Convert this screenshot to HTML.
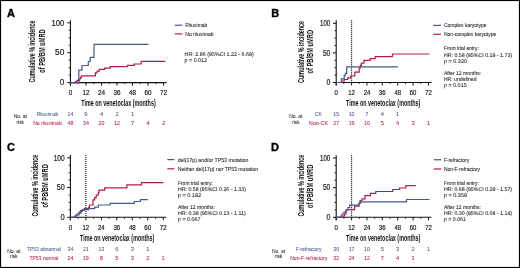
<!DOCTYPE html>
<html><head><meta charset="utf-8"><style>
html,body{margin:0;padding:0;background:#fff;}
body{width:520px;height:268px;overflow:hidden;}
svg{display:block;font-family:"Liberation Sans", sans-serif;will-change:transform;}
</style></head><body>
<svg width="520" height="268" viewBox="0 0 520 268">
<rect x="0.5" y="0.5" width="519" height="267" fill="#fff" stroke="#000" stroke-width="1.2"/>
<text x="7" y="16.6" font-size="11" fill="#000" text-anchor="start" font-weight="bold" stroke="#000" stroke-width="0.35">A</text>
<line x1="70.45" y1="20.2" x2="70.45" y2="85.6" stroke="#111" stroke-width="1.1"/>
<line x1="69.95" y1="82.6" x2="166.5" y2="82.6" stroke="#111" stroke-width="1.1"/>
<line x1="67.25" y1="82.6" x2="70.45" y2="82.6" stroke="#111" stroke-width="1"/>
<line x1="68.75" y1="75.125" x2="70.45" y2="75.125" stroke="#111" stroke-width="0.9"/>
<line x1="68.75" y1="67.64999999999999" x2="70.45" y2="67.64999999999999" stroke="#111" stroke-width="0.9"/>
<line x1="68.75" y1="60.175" x2="70.45" y2="60.175" stroke="#111" stroke-width="0.9"/>
<line x1="67.25" y1="52.699999999999996" x2="70.45" y2="52.699999999999996" stroke="#111" stroke-width="1"/>
<line x1="68.75" y1="45.224999999999994" x2="70.45" y2="45.224999999999994" stroke="#111" stroke-width="0.9"/>
<line x1="68.75" y1="37.75" x2="70.45" y2="37.75" stroke="#111" stroke-width="0.9"/>
<line x1="68.75" y1="30.275" x2="70.45" y2="30.275" stroke="#111" stroke-width="0.9"/>
<line x1="67.25" y1="22.799999999999997" x2="70.45" y2="22.799999999999997" stroke="#111" stroke-width="1"/>
<line x1="70.45" y1="82.6" x2="70.45" y2="85.6" stroke="#111" stroke-width="1"/>
<line x1="78.21000000000001" y1="82.6" x2="78.21000000000001" y2="84.1" stroke="#111" stroke-width="0.9"/>
<line x1="85.97" y1="82.6" x2="85.97" y2="85.6" stroke="#111" stroke-width="1"/>
<line x1="93.73" y1="82.6" x2="93.73" y2="84.1" stroke="#111" stroke-width="0.9"/>
<line x1="101.49000000000001" y1="82.6" x2="101.49000000000001" y2="85.6" stroke="#111" stroke-width="1"/>
<line x1="109.25" y1="82.6" x2="109.25" y2="84.1" stroke="#111" stroke-width="0.9"/>
<line x1="117.01" y1="82.6" x2="117.01" y2="85.6" stroke="#111" stroke-width="1"/>
<line x1="124.77000000000001" y1="82.6" x2="124.77000000000001" y2="84.1" stroke="#111" stroke-width="0.9"/>
<line x1="132.53" y1="82.6" x2="132.53" y2="85.6" stroke="#111" stroke-width="1"/>
<line x1="140.29000000000002" y1="82.6" x2="140.29000000000002" y2="84.1" stroke="#111" stroke-width="0.9"/>
<line x1="148.05" y1="82.6" x2="148.05" y2="85.6" stroke="#111" stroke-width="1"/>
<line x1="155.81" y1="82.6" x2="155.81" y2="84.1" stroke="#111" stroke-width="0.9"/>
<line x1="163.57" y1="82.6" x2="163.57" y2="85.6" stroke="#111" stroke-width="1"/>
<text x="64.4" y="85.35" font-size="8.7" fill="#222" text-anchor="end" textLength="4.6" lengthAdjust="spacingAndGlyphs" stroke="#222" stroke-width="0.2">0</text>
<text x="64.4" y="55.449999999999996" font-size="8.7" fill="#222" text-anchor="end" textLength="9.3" lengthAdjust="spacingAndGlyphs" stroke="#222" stroke-width="0.2">50</text>
<text x="64.4" y="25.549999999999997" font-size="8.7" fill="#222" text-anchor="end" textLength="12.8" lengthAdjust="spacingAndGlyphs" stroke="#222" stroke-width="0.2">100</text>
<text x="70.45" y="94.7" font-size="6.8" fill="#222" text-anchor="middle" textLength="3.4" lengthAdjust="spacingAndGlyphs" stroke="#222" stroke-width="0.2">0</text>
<text x="85.97" y="94.7" font-size="6.8" fill="#222" text-anchor="middle" textLength="7.0" lengthAdjust="spacingAndGlyphs" stroke="#222" stroke-width="0.2">12</text>
<text x="101.49000000000001" y="94.7" font-size="6.8" fill="#222" text-anchor="middle" textLength="7.0" lengthAdjust="spacingAndGlyphs" stroke="#222" stroke-width="0.2">24</text>
<text x="117.01" y="94.7" font-size="6.8" fill="#222" text-anchor="middle" textLength="7.0" lengthAdjust="spacingAndGlyphs" stroke="#222" stroke-width="0.2">36</text>
<text x="132.53" y="94.7" font-size="6.8" fill="#222" text-anchor="middle" textLength="7.0" lengthAdjust="spacingAndGlyphs" stroke="#222" stroke-width="0.2">48</text>
<text x="148.05" y="94.7" font-size="6.8" fill="#222" text-anchor="middle" textLength="7.0" lengthAdjust="spacingAndGlyphs" stroke="#222" stroke-width="0.2">60</text>
<text x="163.57" y="94.7" font-size="6.8" fill="#222" text-anchor="middle" textLength="7.0" lengthAdjust="spacingAndGlyphs" stroke="#222" stroke-width="0.2">72</text>
<text x="81.3" y="105.9" font-size="8.3" fill="#111" text-anchor="start" font-weight="bold" textLength="74.4" lengthAdjust="spacingAndGlyphs">Time on venetoclax (months)</text>
<text x="34.9" y="82.5" font-size="8.8" fill="#111" text-anchor="start" font-weight="bold" textLength="62" lengthAdjust="spacingAndGlyphs" transform="rotate(-90 34.9 82.5)">Cumulative % incidence</text>
<text x="45.2" y="72.7" font-size="8.8" fill="#111" text-anchor="start" font-weight="bold" textLength="43.4" lengthAdjust="spacingAndGlyphs" transform="rotate(-90 45.2 72.7)">of PB/BM uMRD</text>
<path d="M70.45,82.6H75.3V81.6H77V80.3H79.5V78.8H80.6V77.3H81.5V75.8H95.4V72.8H97.1V71.1H99.2V69.4H104.5V68.1H110.2V66.6H127.6V65.3H134.3V64H141.2V61.3H165.3V61.3" fill="none" stroke="#b31c47" stroke-width="1.2" stroke-linejoin="miter"/>
<path d="M70.45,82.6H78.8V70.1H82V65.5H88.3V61.5H90.2V57.3H94V44.3H148.5V44.3" fill="none" stroke="#43598d" stroke-width="1.2" stroke-linejoin="miter"/>
<line x1="174.8" y1="25.2" x2="182.4" y2="25.2" stroke="#43598d" stroke-width="1.2"/>
<line x1="174.8" y1="33.9" x2="182.4" y2="33.9" stroke="#b31c47" stroke-width="1.2"/>
<text x="185.3" y="27.099999999999998" font-size="5.8" fill="#222" text-anchor="start" textLength="22" lengthAdjust="spacingAndGlyphs" stroke="#222" stroke-width="0.08">Rituximab</text>
<text x="185.3" y="35.8" font-size="5.8" fill="#222" text-anchor="start" textLength="28.2" lengthAdjust="spacingAndGlyphs" stroke="#222" stroke-width="0.08">No rituximab</text>
<text x="184.6" y="56.199999999999996" font-size="5.4" fill="#222" text-anchor="start" textLength="69.2" lengthAdjust="spacingAndGlyphs" stroke="#222" stroke-width="0.08" text-rendering="geometricPrecision">HR: 2.86 (95%CI 1.22 - 6.69)</text>
<text x="184.6" y="61.9" font-size="5.4" fill="#222" text-anchor="start" textLength="22.4" lengthAdjust="spacingAndGlyphs" stroke="#222" stroke-width="0.08" text-rendering="geometricPrecision">p = 0.012</text>
<text x="20.3" y="117.8" font-size="6.0" fill="#222" text-anchor="middle" textLength="13.2" lengthAdjust="spacingAndGlyphs" stroke="#222" stroke-width="0.05">No. at</text>
<text x="20.3" y="123.5" font-size="6.0" fill="#222" text-anchor="middle" textLength="7.4" lengthAdjust="spacingAndGlyphs" stroke="#222" stroke-width="0.05">risk</text>
<text x="47.5" y="116.3" font-size="5.9" fill="#43598d" text-anchor="middle" textLength="21.6" lengthAdjust="spacingAndGlyphs" stroke="#43598d" stroke-width="0.05">Rituximab</text>
<text x="47.5" y="125.3" font-size="5.9" fill="#b31c47" text-anchor="middle" textLength="28.6" lengthAdjust="spacingAndGlyphs" stroke="#b31c47" stroke-width="0.05">No rituximab</text>
<text x="70.45" y="116.3" font-size="5.8" fill="#43598d" text-anchor="middle" textLength="5.9" lengthAdjust="spacingAndGlyphs" stroke="#43598d" stroke-width="0.05">14</text>
<text x="85.97" y="116.3" font-size="5.8" fill="#43598d" text-anchor="middle" textLength="3.2" lengthAdjust="spacingAndGlyphs" stroke="#43598d" stroke-width="0.05">9</text>
<text x="101.49000000000001" y="116.3" font-size="5.8" fill="#43598d" text-anchor="middle" textLength="3.2" lengthAdjust="spacingAndGlyphs" stroke="#43598d" stroke-width="0.05">4</text>
<text x="117.01" y="116.3" font-size="5.8" fill="#43598d" text-anchor="middle" textLength="3.2" lengthAdjust="spacingAndGlyphs" stroke="#43598d" stroke-width="0.05">2</text>
<text x="132.53" y="116.3" font-size="5.8" fill="#43598d" text-anchor="middle" textLength="3.2" lengthAdjust="spacingAndGlyphs" stroke="#43598d" stroke-width="0.05">1</text>
<text x="70.45" y="125.3" font-size="5.8" fill="#b31c47" text-anchor="middle" textLength="5.9" lengthAdjust="spacingAndGlyphs" stroke="#b31c47" stroke-width="0.05">48</text>
<text x="85.97" y="125.3" font-size="5.8" fill="#b31c47" text-anchor="middle" textLength="5.9" lengthAdjust="spacingAndGlyphs" stroke="#b31c47" stroke-width="0.05">34</text>
<text x="101.49000000000001" y="125.3" font-size="5.8" fill="#b31c47" text-anchor="middle" textLength="5.9" lengthAdjust="spacingAndGlyphs" stroke="#b31c47" stroke-width="0.05">20</text>
<text x="117.01" y="125.3" font-size="5.8" fill="#b31c47" text-anchor="middle" textLength="5.9" lengthAdjust="spacingAndGlyphs" stroke="#b31c47" stroke-width="0.05">12</text>
<text x="132.53" y="125.3" font-size="5.8" fill="#b31c47" text-anchor="middle" textLength="3.2" lengthAdjust="spacingAndGlyphs" stroke="#b31c47" stroke-width="0.05">7</text>
<text x="148.05" y="125.3" font-size="5.8" fill="#b31c47" text-anchor="middle" textLength="3.2" lengthAdjust="spacingAndGlyphs" stroke="#b31c47" stroke-width="0.05">4</text>
<text x="163.57" y="125.3" font-size="5.8" fill="#b31c47" text-anchor="middle" textLength="3.2" lengthAdjust="spacingAndGlyphs" stroke="#b31c47" stroke-width="0.05">2</text>
<text x="271.2" y="16.6" font-size="11" fill="#000" text-anchor="start" font-weight="bold" stroke="#000" stroke-width="0.35">B</text>
<line x1="336.2" y1="20.3" x2="336.2" y2="85.5" stroke="#111" stroke-width="1.1"/>
<line x1="335.7" y1="82.5" x2="431.5" y2="82.5" stroke="#111" stroke-width="1.1"/>
<line x1="333.0" y1="82.5" x2="336.2" y2="82.5" stroke="#111" stroke-width="1"/>
<line x1="334.5" y1="75.1" x2="336.2" y2="75.1" stroke="#111" stroke-width="0.9"/>
<line x1="334.5" y1="67.7" x2="336.2" y2="67.7" stroke="#111" stroke-width="0.9"/>
<line x1="334.5" y1="60.3" x2="336.2" y2="60.3" stroke="#111" stroke-width="0.9"/>
<line x1="333.0" y1="52.9" x2="336.2" y2="52.9" stroke="#111" stroke-width="1"/>
<line x1="334.5" y1="45.5" x2="336.2" y2="45.5" stroke="#111" stroke-width="0.9"/>
<line x1="334.5" y1="38.099999999999994" x2="336.2" y2="38.099999999999994" stroke="#111" stroke-width="0.9"/>
<line x1="334.5" y1="30.699999999999996" x2="336.2" y2="30.699999999999996" stroke="#111" stroke-width="0.9"/>
<line x1="333.0" y1="23.299999999999997" x2="336.2" y2="23.299999999999997" stroke="#111" stroke-width="1"/>
<line x1="336.2" y1="82.5" x2="336.2" y2="85.5" stroke="#111" stroke-width="1"/>
<line x1="343.89" y1="82.5" x2="343.89" y2="84.0" stroke="#111" stroke-width="0.9"/>
<line x1="351.58" y1="82.5" x2="351.58" y2="85.5" stroke="#111" stroke-width="1"/>
<line x1="359.27" y1="82.5" x2="359.27" y2="84.0" stroke="#111" stroke-width="0.9"/>
<line x1="366.96" y1="82.5" x2="366.96" y2="85.5" stroke="#111" stroke-width="1"/>
<line x1="374.65" y1="82.5" x2="374.65" y2="84.0" stroke="#111" stroke-width="0.9"/>
<line x1="382.34" y1="82.5" x2="382.34" y2="85.5" stroke="#111" stroke-width="1"/>
<line x1="390.03" y1="82.5" x2="390.03" y2="84.0" stroke="#111" stroke-width="0.9"/>
<line x1="397.71999999999997" y1="82.5" x2="397.71999999999997" y2="85.5" stroke="#111" stroke-width="1"/>
<line x1="405.40999999999997" y1="82.5" x2="405.40999999999997" y2="84.0" stroke="#111" stroke-width="0.9"/>
<line x1="413.1" y1="82.5" x2="413.1" y2="85.5" stroke="#111" stroke-width="1"/>
<line x1="420.78999999999996" y1="82.5" x2="420.78999999999996" y2="84.0" stroke="#111" stroke-width="0.9"/>
<line x1="428.48" y1="82.5" x2="428.48" y2="85.5" stroke="#111" stroke-width="1"/>
<text x="330.3" y="85.25" font-size="8.3" fill="#222" text-anchor="end" textLength="3.9" lengthAdjust="spacingAndGlyphs" stroke="#222" stroke-width="0.2">0</text>
<text x="330.3" y="55.65" font-size="8.3" fill="#222" text-anchor="end" textLength="7.4" lengthAdjust="spacingAndGlyphs" stroke="#222" stroke-width="0.2">50</text>
<text x="330.3" y="26.049999999999997" font-size="8.3" fill="#222" text-anchor="end" textLength="10.3" lengthAdjust="spacingAndGlyphs" stroke="#222" stroke-width="0.2">100</text>
<text x="336.2" y="94.7" font-size="6.8" fill="#222" text-anchor="middle" textLength="3.4" lengthAdjust="spacingAndGlyphs" stroke="#222" stroke-width="0.2">0</text>
<text x="351.58" y="94.7" font-size="6.8" fill="#222" text-anchor="middle" textLength="6.6" lengthAdjust="spacingAndGlyphs" stroke="#222" stroke-width="0.2">12</text>
<text x="366.96" y="94.7" font-size="6.8" fill="#222" text-anchor="middle" textLength="6.6" lengthAdjust="spacingAndGlyphs" stroke="#222" stroke-width="0.2">24</text>
<text x="382.34" y="94.7" font-size="6.8" fill="#222" text-anchor="middle" textLength="6.6" lengthAdjust="spacingAndGlyphs" stroke="#222" stroke-width="0.2">36</text>
<text x="397.71999999999997" y="94.7" font-size="6.8" fill="#222" text-anchor="middle" textLength="6.6" lengthAdjust="spacingAndGlyphs" stroke="#222" stroke-width="0.2">48</text>
<text x="413.1" y="94.7" font-size="6.8" fill="#222" text-anchor="middle" textLength="6.6" lengthAdjust="spacingAndGlyphs" stroke="#222" stroke-width="0.2">60</text>
<text x="428.48" y="94.7" font-size="6.8" fill="#222" text-anchor="middle" textLength="6.6" lengthAdjust="spacingAndGlyphs" stroke="#222" stroke-width="0.2">72</text>
<text x="346.0" y="106.1" font-size="8.3" fill="#111" text-anchor="start" font-weight="bold" textLength="74.4" lengthAdjust="spacingAndGlyphs">Time on venetoclax (months)</text>
<text x="303.7" y="82.9" font-size="8.8" fill="#111" text-anchor="start" font-weight="bold" textLength="62" lengthAdjust="spacingAndGlyphs" transform="rotate(-90 303.7 82.9)">Cumulative % incidence</text>
<text x="313.5" y="73.4" font-size="8.8" fill="#111" text-anchor="start" font-weight="bold" textLength="43.4" lengthAdjust="spacingAndGlyphs" transform="rotate(-90 313.5 73.4)">of PB/BM uMRD</text>
<line x1="351.58" y1="20.3" x2="351.58" y2="82.5" stroke="#000" stroke-width="1.1" stroke-dasharray="1 1"/>
<path d="M336.2,82.5H342V81H344.2V79.5H347.7V77.8H350.6V76H354.8V72.2H359.2V68H360.4V65.3H361.4V63.2H364V60.4H370.2V58.7H375.2V56.7H392.5V54H429.5V54" fill="none" stroke="#b31c47" stroke-width="1.2" stroke-linejoin="miter"/>
<path d="M336.2,82.5H341.3V78.8H344.2V75.5H345.3V73.4H346.7V66.9H397.9V66.9" fill="none" stroke="#43598d" stroke-width="1.2" stroke-linejoin="miter"/>
<line x1="433.2" y1="25.4" x2="440.9" y2="25.4" stroke="#43598d" stroke-width="1.2"/>
<line x1="433.2" y1="34.3" x2="440.9" y2="34.3" stroke="#b31c47" stroke-width="1.2"/>
<text x="444" y="27.299999999999997" font-size="5.8" fill="#222" text-anchor="start" textLength="42.5" lengthAdjust="spacingAndGlyphs" stroke="#222" stroke-width="0.08">Complex karyotype</text>
<text x="444" y="36.199999999999996" font-size="5.8" fill="#222" text-anchor="start" textLength="52.2" lengthAdjust="spacingAndGlyphs" stroke="#222" stroke-width="0.08">Non-complex karyotype</text>
<text x="443.9" y="49.9" font-size="5.4" fill="#222" text-anchor="start" textLength="35" lengthAdjust="spacingAndGlyphs" stroke="#222" stroke-width="0.08" text-rendering="geometricPrecision">From trial entry:</text>
<text x="443.9" y="56.699999999999996" font-size="5.4" fill="#222" text-anchor="start" textLength="68.2" lengthAdjust="spacingAndGlyphs" stroke="#222" stroke-width="0.08" text-rendering="geometricPrecision">HR: 0.58 (95%CI 0.19 - 1.73)</text>
<text x="443.9" y="62.9" font-size="5.4" fill="#222" text-anchor="start" textLength="23.2" lengthAdjust="spacingAndGlyphs" stroke="#222" stroke-width="0.08" text-rendering="geometricPrecision">p = 0.320</text>
<text x="443.9" y="74.5" font-size="5.4" fill="#222" text-anchor="start" textLength="37.3" lengthAdjust="spacingAndGlyphs" stroke="#222" stroke-width="0.08" text-rendering="geometricPrecision">After 12 months:</text>
<text x="443.9" y="81.1" font-size="5.4" fill="#222" text-anchor="start" textLength="32.6" lengthAdjust="spacingAndGlyphs" stroke="#222" stroke-width="0.08" text-rendering="geometricPrecision">HR: undefined</text>
<text x="443.9" y="87.3" font-size="5.4" fill="#222" text-anchor="start" textLength="22.8" lengthAdjust="spacingAndGlyphs" stroke="#222" stroke-width="0.08" text-rendering="geometricPrecision">p = 0.015</text>
<text x="295.9" y="117.8" font-size="6.0" fill="#222" text-anchor="middle" textLength="13.2" lengthAdjust="spacingAndGlyphs" stroke="#222" stroke-width="0.05">No. at</text>
<text x="295.9" y="123.5" font-size="6.0" fill="#222" text-anchor="middle" textLength="7.4" lengthAdjust="spacingAndGlyphs" stroke="#222" stroke-width="0.05">risk</text>
<text x="318.4" y="116.3" font-size="5.9" fill="#43598d" text-anchor="middle" textLength="7.4" lengthAdjust="spacingAndGlyphs" stroke="#43598d" stroke-width="0.05">CK</text>
<text x="318.4" y="125.3" font-size="5.9" fill="#b31c47" text-anchor="middle" textLength="19.2" lengthAdjust="spacingAndGlyphs" stroke="#b31c47" stroke-width="0.05">Non-CK</text>
<text x="336.2" y="116.3" font-size="5.8" fill="#43598d" text-anchor="middle" textLength="5.9" lengthAdjust="spacingAndGlyphs" stroke="#43598d" stroke-width="0.05">15</text>
<text x="351.58" y="116.3" font-size="5.8" fill="#43598d" text-anchor="middle" textLength="5.9" lengthAdjust="spacingAndGlyphs" stroke="#43598d" stroke-width="0.05">10</text>
<text x="366.96" y="116.3" font-size="5.8" fill="#43598d" text-anchor="middle" textLength="3.2" lengthAdjust="spacingAndGlyphs" stroke="#43598d" stroke-width="0.05">7</text>
<text x="382.34" y="116.3" font-size="5.8" fill="#43598d" text-anchor="middle" textLength="3.2" lengthAdjust="spacingAndGlyphs" stroke="#43598d" stroke-width="0.05">4</text>
<text x="397.71999999999997" y="116.3" font-size="5.8" fill="#43598d" text-anchor="middle" textLength="3.2" lengthAdjust="spacingAndGlyphs" stroke="#43598d" stroke-width="0.05">1</text>
<text x="336.2" y="125.3" font-size="5.8" fill="#b31c47" text-anchor="middle" textLength="5.9" lengthAdjust="spacingAndGlyphs" stroke="#b31c47" stroke-width="0.05">27</text>
<text x="351.58" y="125.3" font-size="5.8" fill="#b31c47" text-anchor="middle" textLength="5.9" lengthAdjust="spacingAndGlyphs" stroke="#b31c47" stroke-width="0.05">19</text>
<text x="366.96" y="125.3" font-size="5.8" fill="#b31c47" text-anchor="middle" textLength="5.9" lengthAdjust="spacingAndGlyphs" stroke="#b31c47" stroke-width="0.05">10</text>
<text x="382.34" y="125.3" font-size="5.8" fill="#b31c47" text-anchor="middle" textLength="3.2" lengthAdjust="spacingAndGlyphs" stroke="#b31c47" stroke-width="0.05">5</text>
<text x="397.71999999999997" y="125.3" font-size="5.8" fill="#b31c47" text-anchor="middle" textLength="3.2" lengthAdjust="spacingAndGlyphs" stroke="#b31c47" stroke-width="0.05">4</text>
<text x="413.1" y="125.3" font-size="5.8" fill="#b31c47" text-anchor="middle" textLength="3.2" lengthAdjust="spacingAndGlyphs" stroke="#b31c47" stroke-width="0.05">3</text>
<text x="428.48" y="125.3" font-size="5.8" fill="#b31c47" text-anchor="middle" textLength="3.2" lengthAdjust="spacingAndGlyphs" stroke="#b31c47" stroke-width="0.05">1</text>
<text x="7" y="150.9" font-size="11" fill="#000" text-anchor="start" font-weight="bold" stroke="#000" stroke-width="0.35">C</text>
<line x1="70.4" y1="155.0" x2="70.4" y2="220.3" stroke="#111" stroke-width="1.1"/>
<line x1="69.9" y1="217.3" x2="166.3" y2="217.3" stroke="#111" stroke-width="1.1"/>
<line x1="67.2" y1="217.3" x2="70.4" y2="217.3" stroke="#111" stroke-width="1"/>
<line x1="68.7" y1="209.8625" x2="70.4" y2="209.8625" stroke="#111" stroke-width="0.9"/>
<line x1="68.7" y1="202.425" x2="70.4" y2="202.425" stroke="#111" stroke-width="0.9"/>
<line x1="68.7" y1="194.9875" x2="70.4" y2="194.9875" stroke="#111" stroke-width="0.9"/>
<line x1="67.2" y1="187.55" x2="70.4" y2="187.55" stroke="#111" stroke-width="1"/>
<line x1="68.7" y1="180.1125" x2="70.4" y2="180.1125" stroke="#111" stroke-width="0.9"/>
<line x1="68.7" y1="172.675" x2="70.4" y2="172.675" stroke="#111" stroke-width="0.9"/>
<line x1="68.7" y1="165.2375" x2="70.4" y2="165.2375" stroke="#111" stroke-width="0.9"/>
<line x1="67.2" y1="157.8" x2="70.4" y2="157.8" stroke="#111" stroke-width="1"/>
<line x1="70.4" y1="217.3" x2="70.4" y2="220.3" stroke="#111" stroke-width="1"/>
<line x1="78.135" y1="217.3" x2="78.135" y2="218.8" stroke="#111" stroke-width="0.9"/>
<line x1="85.87" y1="217.3" x2="85.87" y2="220.3" stroke="#111" stroke-width="1"/>
<line x1="93.605" y1="217.3" x2="93.605" y2="218.8" stroke="#111" stroke-width="0.9"/>
<line x1="101.34" y1="217.3" x2="101.34" y2="220.3" stroke="#111" stroke-width="1"/>
<line x1="109.07500000000002" y1="217.3" x2="109.07500000000002" y2="218.8" stroke="#111" stroke-width="0.9"/>
<line x1="116.81" y1="217.3" x2="116.81" y2="220.3" stroke="#111" stroke-width="1"/>
<line x1="124.54500000000002" y1="217.3" x2="124.54500000000002" y2="218.8" stroke="#111" stroke-width="0.9"/>
<line x1="132.28" y1="217.3" x2="132.28" y2="220.3" stroke="#111" stroke-width="1"/>
<line x1="140.01500000000001" y1="217.3" x2="140.01500000000001" y2="218.8" stroke="#111" stroke-width="0.9"/>
<line x1="147.75" y1="217.3" x2="147.75" y2="220.3" stroke="#111" stroke-width="1"/>
<line x1="155.485" y1="217.3" x2="155.485" y2="218.8" stroke="#111" stroke-width="0.9"/>
<line x1="163.22000000000003" y1="217.3" x2="163.22000000000003" y2="220.3" stroke="#111" stroke-width="1"/>
<text x="64.7" y="220.20000000000002" font-size="8.5" fill="#222" text-anchor="end" textLength="4.2" lengthAdjust="spacingAndGlyphs" stroke="#222" stroke-width="0.2">0</text>
<text x="64.7" y="190.45000000000002" font-size="8.5" fill="#222" text-anchor="end" textLength="8.0" lengthAdjust="spacingAndGlyphs" stroke="#222" stroke-width="0.2">50</text>
<text x="64.7" y="160.70000000000002" font-size="8.5" fill="#222" text-anchor="end" textLength="11.0" lengthAdjust="spacingAndGlyphs" stroke="#222" stroke-width="0.2">100</text>
<text x="70.4" y="229.6" font-size="6.8" fill="#222" text-anchor="middle" textLength="3.4" lengthAdjust="spacingAndGlyphs" stroke="#222" stroke-width="0.2">0</text>
<text x="85.87" y="229.6" font-size="6.8" fill="#222" text-anchor="middle" textLength="6.8" lengthAdjust="spacingAndGlyphs" stroke="#222" stroke-width="0.2">12</text>
<text x="101.34" y="229.6" font-size="6.8" fill="#222" text-anchor="middle" textLength="6.8" lengthAdjust="spacingAndGlyphs" stroke="#222" stroke-width="0.2">24</text>
<text x="116.81" y="229.6" font-size="6.8" fill="#222" text-anchor="middle" textLength="6.8" lengthAdjust="spacingAndGlyphs" stroke="#222" stroke-width="0.2">36</text>
<text x="132.28" y="229.6" font-size="6.8" fill="#222" text-anchor="middle" textLength="6.8" lengthAdjust="spacingAndGlyphs" stroke="#222" stroke-width="0.2">48</text>
<text x="147.75" y="229.6" font-size="6.8" fill="#222" text-anchor="middle" textLength="6.8" lengthAdjust="spacingAndGlyphs" stroke="#222" stroke-width="0.2">60</text>
<text x="163.22000000000003" y="229.6" font-size="6.8" fill="#222" text-anchor="middle" textLength="6.8" lengthAdjust="spacingAndGlyphs" stroke="#222" stroke-width="0.2">72</text>
<text x="80.0" y="241.2" font-size="8.3" fill="#111" text-anchor="start" font-weight="bold" textLength="74.4" lengthAdjust="spacingAndGlyphs">Time on venetoclax (months)</text>
<text x="37.7" y="216.6" font-size="8.8" fill="#111" text-anchor="start" font-weight="bold" textLength="62" lengthAdjust="spacingAndGlyphs" transform="rotate(-90 37.7 216.6)">Cumulative % incidence</text>
<text x="47.6" y="207.6" font-size="8.8" fill="#111" text-anchor="start" font-weight="bold" textLength="43.4" lengthAdjust="spacingAndGlyphs" transform="rotate(-90 47.6 207.6)">of PB/BM uMRD</text>
<line x1="85.87" y1="155.0" x2="85.87" y2="217.3" stroke="#000" stroke-width="1.1" stroke-dasharray="1 1"/>
<path d="M70.4,217.3H75.9V215.4H77V214H79V212H80.5V210.5H82.5V209.7H88.4V207.5H89.4V205H93V199.8H94.6V197.7H96.2V195.1H98.3V192.5H99V190.1H104.7V187.8H126.9V184.8H141.5V182.7H163.3V182.7" fill="none" stroke="#b31c47" stroke-width="1.2" stroke-linejoin="miter"/>
<path d="M70.4,217.3H74.8V216H76.4V215H79V213.2H81V211.3H82.1V210.2H84.2V208.7H94.6V207.1H98.3V205H110.1V203.3H134.3V201.5H140.4V199.6H147.8V199.6" fill="none" stroke="#43598d" stroke-width="1.2" stroke-linejoin="miter"/>
<line x1="167.3" y1="159.6" x2="174.4" y2="159.6" stroke="#43598d" stroke-width="1.2"/>
<line x1="167.3" y1="168.8" x2="174.4" y2="168.8" stroke="#b31c47" stroke-width="1.2"/>
<text x="177.8" y="161.5" font-size="5.8" fill="#222" text-anchor="start" textLength="70.6" lengthAdjust="spacingAndGlyphs" stroke="#222" stroke-width="0.08">del(17p) and/or TP53 mutation</text>
<text x="177.8" y="170.70000000000002" font-size="5.8" fill="#222" text-anchor="start" textLength="80.2" lengthAdjust="spacingAndGlyphs" stroke="#222" stroke-width="0.08">Neither del(17p) nor TP53 mutation</text>
<text x="177.9" y="184.9" font-size="5.4" fill="#222" text-anchor="start" textLength="35" lengthAdjust="spacingAndGlyphs" stroke="#222" stroke-width="0.08" text-rendering="geometricPrecision">From trial entry:</text>
<text x="177.9" y="191.3" font-size="5.4" fill="#222" text-anchor="start" textLength="68.0" lengthAdjust="spacingAndGlyphs" stroke="#222" stroke-width="0.08" text-rendering="geometricPrecision">HR: 0.58 (95%CI 0.26 - 1.33)</text>
<text x="177.9" y="197.3" font-size="5.4" fill="#222" text-anchor="start" textLength="23.2" lengthAdjust="spacingAndGlyphs" stroke="#222" stroke-width="0.08" text-rendering="geometricPrecision">p = 0.192</text>
<text x="177.9" y="208.9" font-size="5.4" fill="#222" text-anchor="start" textLength="37" lengthAdjust="spacingAndGlyphs" stroke="#222" stroke-width="0.08" text-rendering="geometricPrecision">After 12 months:</text>
<text x="177.9" y="215.3" font-size="5.4" fill="#222" text-anchor="start" textLength="67.8" lengthAdjust="spacingAndGlyphs" stroke="#222" stroke-width="0.08" text-rendering="geometricPrecision">HR: 0.38 (95%CI 0.13 - 1.11)</text>
<text x="177.9" y="221.3" font-size="5.4" fill="#222" text-anchor="start" textLength="22.6" lengthAdjust="spacingAndGlyphs" stroke="#222" stroke-width="0.08" text-rendering="geometricPrecision">p = 0.067</text>
<text x="13.8" y="252.5" font-size="6.0" fill="#222" text-anchor="middle" textLength="13.2" lengthAdjust="spacingAndGlyphs" stroke="#222" stroke-width="0.05">No. at</text>
<text x="13.8" y="258.4" font-size="6.0" fill="#222" text-anchor="middle" textLength="7.4" lengthAdjust="spacingAndGlyphs" stroke="#222" stroke-width="0.05">risk</text>
<text x="43.9" y="251.0" font-size="5.9" fill="#43598d" text-anchor="middle" textLength="34.0" lengthAdjust="spacingAndGlyphs" stroke="#43598d" stroke-width="0.05">TP53 abnormal</text>
<text x="43.9" y="260.3" font-size="5.9" fill="#b31c47" text-anchor="middle" textLength="29.0" lengthAdjust="spacingAndGlyphs" stroke="#b31c47" stroke-width="0.05">TP53 normal</text>
<text x="70.4" y="251.0" font-size="5.8" fill="#43598d" text-anchor="middle" textLength="5.9" lengthAdjust="spacingAndGlyphs" stroke="#43598d" stroke-width="0.05">34</text>
<text x="85.87" y="251.0" font-size="5.8" fill="#43598d" text-anchor="middle" textLength="5.9" lengthAdjust="spacingAndGlyphs" stroke="#43598d" stroke-width="0.05">21</text>
<text x="101.34" y="251.0" font-size="5.8" fill="#43598d" text-anchor="middle" textLength="5.9" lengthAdjust="spacingAndGlyphs" stroke="#43598d" stroke-width="0.05">13</text>
<text x="116.81" y="251.0" font-size="5.8" fill="#43598d" text-anchor="middle" textLength="3.2" lengthAdjust="spacingAndGlyphs" stroke="#43598d" stroke-width="0.05">6</text>
<text x="132.28" y="251.0" font-size="5.8" fill="#43598d" text-anchor="middle" textLength="3.2" lengthAdjust="spacingAndGlyphs" stroke="#43598d" stroke-width="0.05">3</text>
<text x="147.75" y="251.0" font-size="5.8" fill="#43598d" text-anchor="middle" textLength="3.2" lengthAdjust="spacingAndGlyphs" stroke="#43598d" stroke-width="0.05">1</text>
<text x="70.4" y="260.3" font-size="5.8" fill="#b31c47" text-anchor="middle" textLength="5.9" lengthAdjust="spacingAndGlyphs" stroke="#b31c47" stroke-width="0.05">24</text>
<text x="85.87" y="260.3" font-size="5.8" fill="#b31c47" text-anchor="middle" textLength="5.9" lengthAdjust="spacingAndGlyphs" stroke="#b31c47" stroke-width="0.05">19</text>
<text x="101.34" y="260.3" font-size="5.8" fill="#b31c47" text-anchor="middle" textLength="3.2" lengthAdjust="spacingAndGlyphs" stroke="#b31c47" stroke-width="0.05">8</text>
<text x="116.81" y="260.3" font-size="5.8" fill="#b31c47" text-anchor="middle" textLength="3.2" lengthAdjust="spacingAndGlyphs" stroke="#b31c47" stroke-width="0.05">5</text>
<text x="132.28" y="260.3" font-size="5.8" fill="#b31c47" text-anchor="middle" textLength="3.2" lengthAdjust="spacingAndGlyphs" stroke="#b31c47" stroke-width="0.05">3</text>
<text x="147.75" y="260.3" font-size="5.8" fill="#b31c47" text-anchor="middle" textLength="3.2" lengthAdjust="spacingAndGlyphs" stroke="#b31c47" stroke-width="0.05">2</text>
<text x="163.22000000000003" y="260.3" font-size="5.8" fill="#b31c47" text-anchor="middle" textLength="3.2" lengthAdjust="spacingAndGlyphs" stroke="#b31c47" stroke-width="0.05">1</text>
<text x="271.1" y="150.9" font-size="11" fill="#000" text-anchor="start" font-weight="bold" stroke="#000" stroke-width="0.35">D</text>
<line x1="336.2" y1="155.2" x2="336.2" y2="220.3" stroke="#111" stroke-width="1.1"/>
<line x1="335.7" y1="217.3" x2="431.5" y2="217.3" stroke="#111" stroke-width="1.1"/>
<line x1="333.0" y1="217.3" x2="336.2" y2="217.3" stroke="#111" stroke-width="1"/>
<line x1="334.5" y1="209.88750000000002" x2="336.2" y2="209.88750000000002" stroke="#111" stroke-width="0.9"/>
<line x1="334.5" y1="202.47500000000002" x2="336.2" y2="202.47500000000002" stroke="#111" stroke-width="0.9"/>
<line x1="334.5" y1="195.0625" x2="336.2" y2="195.0625" stroke="#111" stroke-width="0.9"/>
<line x1="333.0" y1="187.65" x2="336.2" y2="187.65" stroke="#111" stroke-width="1"/>
<line x1="334.5" y1="180.2375" x2="336.2" y2="180.2375" stroke="#111" stroke-width="0.9"/>
<line x1="334.5" y1="172.825" x2="336.2" y2="172.825" stroke="#111" stroke-width="0.9"/>
<line x1="334.5" y1="165.4125" x2="336.2" y2="165.4125" stroke="#111" stroke-width="0.9"/>
<line x1="333.0" y1="158.0" x2="336.2" y2="158.0" stroke="#111" stroke-width="1"/>
<line x1="336.2" y1="217.3" x2="336.2" y2="220.3" stroke="#111" stroke-width="1"/>
<line x1="343.89" y1="217.3" x2="343.89" y2="218.8" stroke="#111" stroke-width="0.9"/>
<line x1="351.58" y1="217.3" x2="351.58" y2="220.3" stroke="#111" stroke-width="1"/>
<line x1="359.27" y1="217.3" x2="359.27" y2="218.8" stroke="#111" stroke-width="0.9"/>
<line x1="366.96" y1="217.3" x2="366.96" y2="220.3" stroke="#111" stroke-width="1"/>
<line x1="374.65" y1="217.3" x2="374.65" y2="218.8" stroke="#111" stroke-width="0.9"/>
<line x1="382.34" y1="217.3" x2="382.34" y2="220.3" stroke="#111" stroke-width="1"/>
<line x1="390.03" y1="217.3" x2="390.03" y2="218.8" stroke="#111" stroke-width="0.9"/>
<line x1="397.71999999999997" y1="217.3" x2="397.71999999999997" y2="220.3" stroke="#111" stroke-width="1"/>
<line x1="405.40999999999997" y1="217.3" x2="405.40999999999997" y2="218.8" stroke="#111" stroke-width="0.9"/>
<line x1="413.1" y1="217.3" x2="413.1" y2="220.3" stroke="#111" stroke-width="1"/>
<line x1="420.78999999999996" y1="217.3" x2="420.78999999999996" y2="218.8" stroke="#111" stroke-width="0.9"/>
<line x1="428.48" y1="217.3" x2="428.48" y2="220.3" stroke="#111" stroke-width="1"/>
<text x="330.3" y="220.05" font-size="8.3" fill="#222" text-anchor="end" textLength="3.9" lengthAdjust="spacingAndGlyphs" stroke="#222" stroke-width="0.2">0</text>
<text x="330.3" y="190.4" font-size="8.3" fill="#222" text-anchor="end" textLength="7.4" lengthAdjust="spacingAndGlyphs" stroke="#222" stroke-width="0.2">50</text>
<text x="330.3" y="160.75" font-size="8.3" fill="#222" text-anchor="end" textLength="10.3" lengthAdjust="spacingAndGlyphs" stroke="#222" stroke-width="0.2">100</text>
<text x="336.2" y="229.6" font-size="6.8" fill="#222" text-anchor="middle" textLength="3.4" lengthAdjust="spacingAndGlyphs" stroke="#222" stroke-width="0.2">0</text>
<text x="351.58" y="229.6" font-size="6.8" fill="#222" text-anchor="middle" textLength="6.6" lengthAdjust="spacingAndGlyphs" stroke="#222" stroke-width="0.2">12</text>
<text x="366.96" y="229.6" font-size="6.8" fill="#222" text-anchor="middle" textLength="6.6" lengthAdjust="spacingAndGlyphs" stroke="#222" stroke-width="0.2">24</text>
<text x="382.34" y="229.6" font-size="6.8" fill="#222" text-anchor="middle" textLength="6.6" lengthAdjust="spacingAndGlyphs" stroke="#222" stroke-width="0.2">36</text>
<text x="397.71999999999997" y="229.6" font-size="6.8" fill="#222" text-anchor="middle" textLength="6.6" lengthAdjust="spacingAndGlyphs" stroke="#222" stroke-width="0.2">48</text>
<text x="413.1" y="229.6" font-size="6.8" fill="#222" text-anchor="middle" textLength="6.6" lengthAdjust="spacingAndGlyphs" stroke="#222" stroke-width="0.2">60</text>
<text x="428.48" y="229.6" font-size="6.8" fill="#222" text-anchor="middle" textLength="6.6" lengthAdjust="spacingAndGlyphs" stroke="#222" stroke-width="0.2">72</text>
<text x="346.0" y="241.2" font-size="8.3" fill="#111" text-anchor="start" font-weight="bold" textLength="74.4" lengthAdjust="spacingAndGlyphs">Time on venetoclax (months)</text>
<text x="303.7" y="216.6" font-size="8.8" fill="#111" text-anchor="start" font-weight="bold" textLength="62" lengthAdjust="spacingAndGlyphs" transform="rotate(-90 303.7 216.6)">Cumulative % incidence</text>
<text x="313.5" y="208.1" font-size="8.8" fill="#111" text-anchor="start" font-weight="bold" textLength="43.4" lengthAdjust="spacingAndGlyphs" transform="rotate(-90 313.5 208.1)">of PB/BM uMRD</text>
<line x1="351.58" y1="155.2" x2="351.58" y2="217.3" stroke="#000" stroke-width="1.1" stroke-dasharray="1 1"/>
<path d="M336.2,217.3H343V216H344.5V214H346V212H346.5V209.7H354.6V206.1H359V203H360V200.5H362V198.8H365V195.7H370.4V193.4H375.8V191.5H392.7V189.5H399.6V188H405.8V185.7H415.8V185.7" fill="none" stroke="#b31c47" stroke-width="1.2" stroke-linejoin="miter"/>
<path d="M336.2,217.3H340.7V216H342V214H344V212H346V210H348V207.5H349.7V205.2H359V203.5H360.6V201.8H406.5V199.5H429.6V199.5" fill="none" stroke="#43598d" stroke-width="1.2" stroke-linejoin="miter"/>
<line x1="433.75" y1="159.75" x2="441.25" y2="159.75" stroke="#43598d" stroke-width="1.2"/>
<line x1="433.75" y1="169" x2="441.25" y2="169" stroke="#b31c47" stroke-width="1.2"/>
<text x="443.9" y="161.65" font-size="5.8" fill="#222" text-anchor="start" textLength="25.2" lengthAdjust="spacingAndGlyphs" stroke="#222" stroke-width="0.08">F-refractory</text>
<text x="443.9" y="170.9" font-size="5.8" fill="#222" text-anchor="start" textLength="36.2" lengthAdjust="spacingAndGlyphs" stroke="#222" stroke-width="0.08">Non-F-refractory</text>
<text x="443.9" y="184.9" font-size="5.4" fill="#222" text-anchor="start" textLength="35" lengthAdjust="spacingAndGlyphs" stroke="#222" stroke-width="0.08" text-rendering="geometricPrecision">From trial entry:</text>
<text x="443.9" y="191.3" font-size="5.4" fill="#222" text-anchor="start" textLength="68.2" lengthAdjust="spacingAndGlyphs" stroke="#222" stroke-width="0.08" text-rendering="geometricPrecision">HR: 0.68 (95%CI 0.29 - 1.57)</text>
<text x="443.9" y="197.3" font-size="5.4" fill="#222" text-anchor="start" textLength="23.2" lengthAdjust="spacingAndGlyphs" stroke="#222" stroke-width="0.08" text-rendering="geometricPrecision">p = 0.359</text>
<text x="443.9" y="208.9" font-size="5.4" fill="#222" text-anchor="start" textLength="37" lengthAdjust="spacingAndGlyphs" stroke="#222" stroke-width="0.08" text-rendering="geometricPrecision">After 12 months:</text>
<text x="443.9" y="215.3" font-size="5.4" fill="#222" text-anchor="start" textLength="68.2" lengthAdjust="spacingAndGlyphs" stroke="#222" stroke-width="0.08" text-rendering="geometricPrecision">HR: 0.30 (95%CI 0.08 - 1.14)</text>
<text x="443.9" y="221.3" font-size="5.4" fill="#222" text-anchor="start" textLength="22" lengthAdjust="spacingAndGlyphs" stroke="#222" stroke-width="0.08" text-rendering="geometricPrecision">p = 0.061</text>
<text x="278.5" y="252.5" font-size="6.0" fill="#222" text-anchor="middle" textLength="13.2" lengthAdjust="spacingAndGlyphs" stroke="#222" stroke-width="0.05">No. at</text>
<text x="278.5" y="258.2" font-size="6.0" fill="#222" text-anchor="middle" textLength="7.4" lengthAdjust="spacingAndGlyphs" stroke="#222" stroke-width="0.05">risk</text>
<text x="308.7" y="251.2" font-size="5.9" fill="#43598d" text-anchor="middle" textLength="25.6" lengthAdjust="spacingAndGlyphs" stroke="#43598d" stroke-width="0.05">F-refractory</text>
<text x="308.7" y="260.3" font-size="5.9" fill="#b31c47" text-anchor="middle" textLength="37.0" lengthAdjust="spacingAndGlyphs" stroke="#b31c47" stroke-width="0.05">Non-F-refractory</text>
<text x="336.2" y="251.2" font-size="5.8" fill="#43598d" text-anchor="middle" textLength="5.9" lengthAdjust="spacingAndGlyphs" stroke="#43598d" stroke-width="0.05">30</text>
<text x="351.58" y="251.2" font-size="5.8" fill="#43598d" text-anchor="middle" textLength="5.9" lengthAdjust="spacingAndGlyphs" stroke="#43598d" stroke-width="0.05">17</text>
<text x="366.96" y="251.2" font-size="5.8" fill="#43598d" text-anchor="middle" textLength="5.9" lengthAdjust="spacingAndGlyphs" stroke="#43598d" stroke-width="0.05">10</text>
<text x="382.34" y="251.2" font-size="5.8" fill="#43598d" text-anchor="middle" textLength="3.2" lengthAdjust="spacingAndGlyphs" stroke="#43598d" stroke-width="0.05">5</text>
<text x="397.71999999999997" y="251.2" font-size="5.8" fill="#43598d" text-anchor="middle" textLength="3.2" lengthAdjust="spacingAndGlyphs" stroke="#43598d" stroke-width="0.05">3</text>
<text x="413.1" y="251.2" font-size="5.8" fill="#43598d" text-anchor="middle" textLength="3.2" lengthAdjust="spacingAndGlyphs" stroke="#43598d" stroke-width="0.05">2</text>
<text x="428.48" y="251.2" font-size="5.8" fill="#43598d" text-anchor="middle" textLength="3.2" lengthAdjust="spacingAndGlyphs" stroke="#43598d" stroke-width="0.05">1</text>
<text x="336.2" y="260.3" font-size="5.8" fill="#b31c47" text-anchor="middle" textLength="5.9" lengthAdjust="spacingAndGlyphs" stroke="#b31c47" stroke-width="0.05">32</text>
<text x="351.58" y="260.3" font-size="5.8" fill="#b31c47" text-anchor="middle" textLength="5.9" lengthAdjust="spacingAndGlyphs" stroke="#b31c47" stroke-width="0.05">24</text>
<text x="366.96" y="260.3" font-size="5.8" fill="#b31c47" text-anchor="middle" textLength="5.9" lengthAdjust="spacingAndGlyphs" stroke="#b31c47" stroke-width="0.05">12</text>
<text x="382.34" y="260.3" font-size="5.8" fill="#b31c47" text-anchor="middle" textLength="3.2" lengthAdjust="spacingAndGlyphs" stroke="#b31c47" stroke-width="0.05">7</text>
<text x="397.71999999999997" y="260.3" font-size="5.8" fill="#b31c47" text-anchor="middle" textLength="3.2" lengthAdjust="spacingAndGlyphs" stroke="#b31c47" stroke-width="0.05">4</text>
<text x="413.1" y="260.3" font-size="5.8" fill="#b31c47" text-anchor="middle" textLength="3.2" lengthAdjust="spacingAndGlyphs" stroke="#b31c47" stroke-width="0.05">1</text>
</svg></body></html>
